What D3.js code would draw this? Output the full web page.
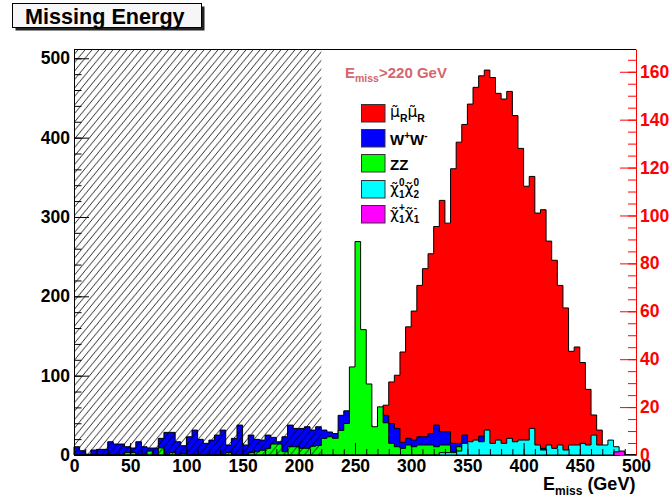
<!DOCTYPE html>
<html>
<head>
<meta charset="utf-8">
<script src="https://cdn.jsdelivr.net/npm/d3@7"></script>
<style>
  body { margin: 0; background: #fff; }
  svg { display: block; }
  text { font-family: "Liberation Sans", Arial, sans-serif; }
</style>
</head>
<body>
<svg id="chart" width="672" height="502"></svg>
<script>
// Missing energy, 5 GeV bins from 0 to 500 GeV
const binLow = d3.range(0, 500, 5);
const binWidth = 5;

// signal, read on the right-hand (red) axis
const smuon = [
  0, 0, 0, 0, 0, 0, 0, 0, 0, 0,
  0, 0, 0, 0, 0, 0, 0, 0, 0, 0,
  0, 0, 0, 0, 0, 0, 0, 0, 0, 0,
  0, 0, 0, 0, 0, 0, 0, 0, 0, 0,
  0, 0, 0, 0, 0, 0, 0, 0, 0, 0,
  0, 0, 0, 0, 0, 20.8, 30.5, 33.3, 43, 53.5,
  60.1, 70.8, 77.8, 84, 95.4, 106.3, 96.8, 119.5, 130.6, 138,
  146.5, 153.5, 158.3, 160.7, 157.6, 151, 148.6, 151.8, 141.7, 128,
  112.2, 116.3, 101, 102.4, 89.3, 81.3, 70.8, 61.4, 43.3, 45.1,
  38.6, 27.4, 16.7, 10.4, 0, 0, 0, 0, 0, 0
];

// backgrounds, read on the left-hand axis
const ww = [
  10.4, 5.4, 1, 6.3, 7.1, 7.1, 16.7, 13.8, 13.8, 10.4,
  8.8, 16.7, 10.4, 8.8, 8.8, 21, 28.5, 28.5, 16.7, 11.7,
  23, 31.4, 19.7, 14.7, 18.8, 25.1, 31.4, 12.6, 21, 37.7,
  12.6, 25.1, 19.7, 18.8, 25.1, 22.2, 16.7, 23, 37.7, 33.5,
  33.5, 35.6, 31.4, 35.6, 31.4, 29, 27, 50, 55.7, 48,
  40, 44, 38, 30, 45, 50, 39.7, 33.5, 16, 21,
  18.8, 23, 23, 27, 37.7, 29.3, 29.3, 14.7, 14.7, 25.1,
  12, 14, 23.9, 14, 8, 10, 6, 9, 5, 7,
  4, 5, 3, 8.4, 2, 3, 0, 2, 0, 1,
  0, 0, 0, 0, 0, 0, 0, 0, 0, 0
];

const zz = [
  0, 0, 0, 0, 0, 0, 0, 0, 0, 3,
  3, 0, 0, 5, 0, 9, 0, 3, 0, 2,
  0, 0, 0, 0, 0, 0, 0, 3, 0, 0,
  0, 3, 4, 6, 8.4, 13.8, 13.8, 4.2, 10.4, 10.4,
  8.4, 8.4, 11, 12, 21, 23, 21, 31, 39.7, 111,
  269, 158, 89.5, 35.6, 60.7, 40.6, 14.7, 10.4, 8.4, 12.6,
  10.4, 12.6, 12.6, 12.6, 10.4, 12.6, 12.6, 4, 10.4, 0,
  2, 0, 0, 0, 0, 0, 0, 0, 0, 0,
  0, 0, 0, 0, 0, 0, 0, 0, 0, 0,
  0, 0, 0, 0, 0, 0, 0, 0, 0, 0
];

const neutralino = [
  0, 0, 0, 0, 0, 0, 0, 0, 0, 0,
  0, 0, 0, 0, 0, 0, 0, 0, 0, 0,
  0, 0, 0, 0, 0, 0, 0, 0, 0, 0,
  0, 0, 0, 0, 0, 0, 0, 0, 0, 0,
  0, 0, 0, 0, 0, 0, 0, 0, 0, 0,
  0, 0, 0, 0, 0, 0, 0, 0, 0, 0,
  0, 0, 0, 0, 0, 3, 3, 3, 5, 14.7,
  16.7, 18.8, 16.7, 31.4, 14.7, 18.8, 14.7, 21, 16.7, 18.8,
  18.8, 33.5, 12.6, 6.3, 12.6, 8.4, 12.6, 6.3, 12.6, 12.6,
  14.7, 12.6, 25.1, 12.6, 12.6, 18.8, 10.4, 0, 0, 0
];

const chargino = [
  0, 0, 0, 0, 0, 0, 0, 0, 0, 0,
  0, 0, 0, 0, 0, 0, 0, 0, 0, 0,
  0, 0, 0, 0, 0, 0, 0, 0, 0, 0,
  0, 0, 0, 0, 0, 0, 0, 0, 0, 0,
  0, 0, 0, 0, 0, 0, 0, 0, 0, 0,
  0, 0, 0, 0, 0, 0, 0, 0, 0, 0,
  0, 0, 0, 0, 0, 0, 0, 0, 0, 0,
  0, 0, 0, 0, 0, 0, 0, 0, 0, 0,
  0, 0, 0, 0, 0, 0, 0, 0, 0, 0,
  0, 0, 0, 0, 0, 0, 4, 5, 0, 0
];

const xTicks = [0, 50, 100, 150, 200, 250, 300, 350, 400, 450, 500];
const leftTicks = [0, 100, 200, 300, 400, 500];
const rightTicks = [0, 20, 40, 60, 80, 100, 120, 140, 160];
const cutValue = 220;

const svg = d3.select("#chart");
const frame = { l: 74, r: 636, t: 49, b: 455 };

const x = d3.scaleLinear().domain([0, 500]).range([frame.l, frame.r]);
const yL = d3.scaleLinear().domain([0, 511.7]).range([frame.b, frame.t]);
const yR = d3.scaleLinear().domain([0, 169.5]).range([frame.b, frame.t]);

// hatch pattern for the excluded region
const defs = svg.append("defs");
const pat = defs.append("pattern")
  .attr("id", "hatch")
  .attr("patternUnits", "userSpaceOnUse")
  .attr("width", 7).attr("height", 8.5);
pat.append("path")
  .attr("d", "M-7,8.5 L0,0 M0,8.5 L7,0 M7,8.5 L14,0")
  .attr("stroke", "#000").attr("stroke-width", 0.8).attr("fill", "none");

// title box
svg.append("rect").attr("x", 15.5).attr("y", 6.5).attr("width", 189).attr("height", 24).attr("fill", "#222");
svg.append("rect").attr("x", 12.5).attr("y", 3.5).attr("width", 189).attr("height", 24)
  .attr("fill", "#f6f6f6").attr("stroke", "#000").attr("stroke-width", 1);
svg.append("text").attr("x", 25).attr("y", 23.5)
  .attr("font-size", 21.6).attr("font-weight", "bold").attr("fill", "#000")
  .text("Missing Energy");

// step-shaped histogram outline and fill
function histogram(vals, y, fill) {
  const pts = [[binLow[0], 0]];
  vals.forEach((v, i) => {
    pts.push([binLow[i], v]);
    pts.push([binLow[i] + binWidth, v]);
  });
  pts.push([binLow[vals.length - 1] + binWidth, 0]);
  const g = svg.append("g");
  g.append("path")
    .attr("d", d3.area().x(d => x(d[0])).y0(y(0)).y1(d => y(d[1]))(pts))
    .attr("fill", fill).attr("stroke", "none");
  g.append("path")
    .attr("d", d3.line().x(d => x(d[0])).y(d => y(d[1]))(pts))
    .attr("fill", "none").attr("stroke", "#000").attr("stroke-width", 1);
}

histogram(smuon, yR, "#ff0000");
histogram(ww, yL, "#0000ff");
histogram(zz, yL, "#00ff00");
histogram(neutralino, yL, "#00ffff");
histogram(chargino, yL, "#ff00ff");

// excluded region below the cut
svg.append("rect")
  .attr("x", x(0)).attr("y", frame.t)
  .attr("width", x(cutValue) - x(0)).attr("height", frame.b - frame.t)
  .attr("fill", "url(#hatch)");

// frame top edge
svg.append("line").attr("x1", frame.l).attr("x2", frame.r).attr("y1", frame.t + 0.5).attr("y2", frame.t + 0.5)
  .attr("stroke", "#000");

function styleAxis(g, color, size) {
  g.selectAll("text").attr("font-size", size).attr("font-weight", "bold").attr("fill", color)
    .attr("font-family", "Liberation Sans, Arial, sans-serif");
  g.selectAll("line").attr("stroke", color);
  g.selectAll(".domain").attr("stroke", color);
}

// left axis
const gL = svg.append("g").attr("transform", `translate(${frame.l},0)`)
  .call(d3.axisLeft(yL).tickValues(leftTicks).tickSize(-15).tickSizeOuter(0).tickPadding(4));
styleAxis(gL, "#000", 17.5);
const gLm = svg.append("g").attr("transform", `translate(${frame.l},0)`)
  .call(d3.axisLeft(yL).tickValues(d3.range(0, 512, 20)).tickSize(-7.5).tickFormat(""));
gLm.select(".domain").remove();
styleAxis(gLm, "#000", 17.5);

// bottom axis
const gB = svg.append("g").attr("transform", `translate(0,${frame.b})`)
  .call(d3.axisBottom(x).tickValues(xTicks).tickSize(-12).tickSizeOuter(0).tickPadding(5));
styleAxis(gB, "#000", 17.5);
const gBm = svg.append("g").attr("transform", `translate(0,${frame.b})`)
  .call(d3.axisBottom(x).tickValues(d3.range(0, 501, 10)).tickSize(-6).tickFormat(""));
gBm.select(".domain").remove();
styleAxis(gBm, "#000", 17.5);

// right (red) axis for the signal
const gR = svg.append("g").attr("transform", `translate(${frame.r},0)`)
  .call(d3.axisRight(yR).tickValues(rightTicks).tickSize(-16).tickSizeOuter(0).tickPadding(4));
styleAxis(gR, "#ff0000", 17.5);
const gRm = svg.append("g").attr("transform", `translate(${frame.r},0)`)
  .call(d3.axisRight(yR).tickValues(d3.range(0, 169, 5)).tickSize(-8).tickFormat(""));
gRm.select(".domain").remove();
styleAxis(gRm, "#ff0000", 17.5);

// axis title
const xt = svg.append("text").attr("x", 543).attr("y", 490)
  .attr("font-weight", "bold").attr("fill", "#000");
xt.append("tspan").attr("font-size", 18).text("E");
xt.append("tspan").attr("font-size", 12).attr("dy", 5).text("miss");
xt.append("tspan").attr("font-size", 18).attr("dy", -5).text(" (GeV)");

// cut annotation
const cut = svg.append("text").attr("x", 345).attr("y", 78)
  .attr("font-weight", "bold").attr("fill", "#d4666c");
cut.append("tspan").attr("font-size", 15).text("E");
cut.append("tspan").attr("font-size", 10.5).attr("dy", 4).text("miss");
cut.append("tspan").attr("font-size", 15).attr("dy", -4).text(">220 GeV");

// legend
const legendColors = ["#ff0000", "#0000ff", "#00ff00", "#00ffff", "#ff00ff"];
const legendRows = [113, 138, 163, 189, 214];
legendRows.forEach((cy, i) => {
  svg.append("rect").attr("x", 361.5).attr("y", cy - 8.5).attr("width", 23.5).attr("height", 17.5)
    .attr("fill", legendColors[i]).attr("stroke", "#333").attr("stroke-width", 1);
});

const greek = "DejaVu Sans, sans-serif";
function addPart(t, str, opts) {
  const s = t.append("tspan").text(str);
  if (opts.size) s.attr("font-size", opts.size);
  if (opts.dy) s.attr("dy", opts.dy);
  if (opts.dx) s.attr("dx", opts.dx);
  if (opts.greek) s.attr("font-family", greek).attr("font-weight", "normal");
  else s.attr("font-weight", "bold");
  return s;
}

// smuon pair
let t = svg.append("text").attr("x", 390).attr("y", 117).attr("fill", "#000");
addPart(t, "\u03BC\u0303", { size: 15.5, greek: true });
addPart(t, "R", { size: 10.5, dy: 5 });
addPart(t, "\u03BC\u0303", { size: 15.5, dy: -5, greek: true });
addPart(t, "R", { size: 10.5, dy: 5 });

// W pair
t = svg.append("text").attr("x", 390).attr("y", 145).attr("fill", "#000");
addPart(t, "W", { size: 15 });
addPart(t, "+", { size: 10, dy: -6 });
addPart(t, "W", { size: 15, dy: 6 });
addPart(t, "-", { size: 10, dy: -6 });

// Z pair
t = svg.append("text").attr("x", 390).attr("y", 170).attr("fill", "#000");
addPart(t, "ZZ", { size: 15 });

// neutralino pair
t = svg.append("text").attr("x", 390).attr("y", 194).attr("fill", "#000");
addPart(t, "\u03C7\u0303", { size: 15.5, greek: true });
addPart(t, "1", { size: 10, dy: 4 });
addPart(t, "0", { size: 10, dx: -5.6, dy: -12 });
addPart(t, "\u03C7\u0303", { size: 15.5, dy: 8, greek: true });
addPart(t, "2", { size: 10, dy: 4 });
addPart(t, "0", { size: 10, dx: -5.6, dy: -12 });

// chargino pair
t = svg.append("text").attr("x", 390).attr("y", 219).attr("fill", "#000");
addPart(t, "\u03C7\u0303", { size: 15.5, greek: true });
addPart(t, "1", { size: 10, dy: 4 });
addPart(t, "+", { size: 10, dx: -5.6, dy: -12 });
addPart(t, "\u03C7\u0303", { size: 15.5, dy: 8, greek: true });
addPart(t, "1", { size: 10, dy: 4 });
addPart(t, "-", { size: 10, dx: -5.6, dy: -12 });
</script>
</body>
</html>
